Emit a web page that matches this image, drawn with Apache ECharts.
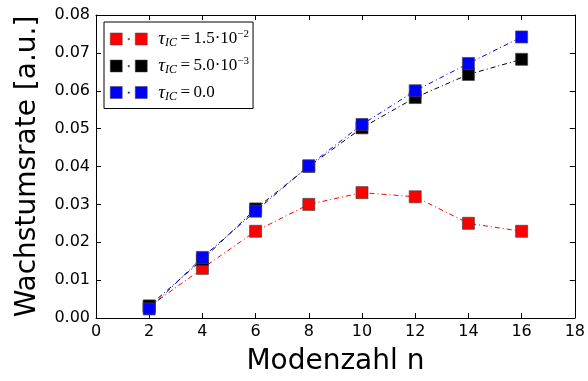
<!DOCTYPE html>
<html>
<head>
<meta charset="utf-8">
<script src="https://cdn.jsdelivr.net/npm/echarts@6/dist/echarts.min.js"></script>
<style>
  html, body { margin: 0; padding: 0; background: #fff; }
  #chart { width: 588px; height: 381px; }
</style>
</head>
<body>
<div id="chart"></div>
<script>
// Mode numbers on the x axis
const modes = [2, 4, 6, 8, 10, 12, 14, 16];

// Growth rate for each damping value tau_IC
const rateTau15e3 = [0.0030, 0.0131, 0.0229, 0.0300, 0.0331, 0.0320, 0.0250, 0.0229];
const rateTau5e3  = [0.0032, 0.0154, 0.0288, 0.0400, 0.0502, 0.0582, 0.0643, 0.0683];
const rateTau0    = [0.0024, 0.0160, 0.0282, 0.0402, 0.0511, 0.0600, 0.0672, 0.0742];

// Legend entries: [symbol, subscript, value, exponent]
const legendParts = [
  ['τ', 'IC', '\u2009=\u20091.5·10', '−2'],
  ['τ', 'IC', '\u2009=\u20095.0·10', '−3'],
  ['τ', 'IC', '\u2009=\u20090.0', '']
];
const seriesNames = ['tau15e3', 'tau5e3', 'tau0'];
const seriesColors = ['#ff0000', '#000000', '#0000ff'];
const seriesValues = [rateTau15e3, rateTau5e3, rateTau0];

const chart = echarts.init(document.getElementById('chart'), null, { renderer: 'canvas' });

const tickFont = { fontFamily: 'DejaVu Sans', fontSize: 16, color: '#000' };
const mathFont = 'Liberation Serif';

function pairs(values) {
  return modes.map((m, i) => [m, values[i]]);
}

// Two squares joined by a short dash-dot piece, as used in the legend keys
const legendIcon = 'path://M0,0h12v12h-12Z M17.8,5.4h1.4v1.4h-1.4Z M25,0h12v12h-12Z';

const series = seriesNames.map((name, i) => ({
  name: name,
  type: 'line',
  data: pairs(seriesValues[i]),
  symbol: 'rect',
  symbolSize: 12,
  showSymbol: true,
  animation: false,
  z: 2 + i,
  lineStyle: { color: seriesColors[i], width: 1, type: [5, 3, 1, 3] },
  itemStyle: { color: seriesColors[i], borderColor: '#444', borderWidth: 0.7 },
  emphasis: { disabled: true }
}));

const axisCommonX = {
  type: 'value', min: 0, max: 18, interval: 2,
  axisLine: { show: true, onZero: false, lineStyle: { color: '#000', width: 1 } },
  axisTick: { show: true, inside: true, length: 5, lineStyle: { color: '#000' } },
  splitLine: { show: false }
};
const axisCommonY = {
  type: 'value', min: 0, max: 0.08, interval: 0.01,
  axisLine: { show: true, onZero: false, lineStyle: { color: '#000', width: 1 } },
  axisTick: { show: true, inside: true, length: 5, lineStyle: { color: '#000' } },
  splitLine: { show: false }
};

chart.setOption({
  backgroundColor: '#fff',
  animation: false,
  grid: { left: 96, right: 12, top: 15, bottom: 62, containLabel: false },
  xAxis: [
    Object.assign({}, axisCommonX, {
      position: 'bottom',
      name: 'Modenzahl n',
      nameLocation: 'middle',
      nameGap: 30,
      nameTextStyle: { fontFamily: 'DejaVu Sans', fontSize: 28, color: '#000', verticalAlign: 'top' },
      axisLabel: Object.assign({ margin: 6 }, tickFont)
    }),
    Object.assign({}, axisCommonX, { position: 'top', axisLabel: { show: false } })
  ],
  yAxis: [
    Object.assign({}, axisCommonY, {
      position: 'left',
      name: 'Wachstumsrate [a.u.]',
      nameLocation: 'middle',
      nameGap: 54,
      nameTextStyle: { fontFamily: 'DejaVu Sans', fontSize: 28, color: '#000' },
      axisLabel: Object.assign({ margin: 6, formatter: v => v.toFixed(2) }, tickFont)
    }),
    Object.assign({}, axisCommonY, { position: 'right', axisLabel: { show: false } })
  ],
  legend: {
    orient: 'vertical',
    left: 104,
    top: 22,
    padding: [7, 4, 6, 6],
    itemGap: 7,
    itemWidth: 37,
    itemHeight: 12,
    borderColor: '#000',
    borderWidth: 1,
    borderRadius: 0,
    backgroundColor: '#fff',
    selectedMode: false,
    icon: legendIcon,
    itemStyle: { borderWidth: 0.5, borderColor: '#444' },
    data: seriesNames,
    formatter: function (name) {
      const p = legendParts[seriesNames.indexOf(name)];
      let s = '{sym|' + p[0] + '}{sub|' + p[1] + '}{val|' + p[2] + '}';
      if (p[3]) s += '{sup|' + p[3] + '}';
      return s;
    },
    textStyle: {
      fontFamily: mathFont,
      fontSize: 17,
      color: '#000',
      padding: [0, 0, 0, 6],
      rich: {
        sym: { fontFamily: mathFont, fontStyle: 'italic', fontSize: 19, lineHeight: 20, verticalAlign: 'middle' },
        sub: { fontFamily: mathFont, fontStyle: 'italic', fontSize: 12, lineHeight: 20, verticalAlign: 'bottom' },
        val: { fontFamily: mathFont, fontSize: 17, lineHeight: 20, verticalAlign: 'middle' },
        sup: { fontFamily: mathFont, fontSize: 11, lineHeight: 20, verticalAlign: 'top' }
      }
    }
  },
  series: series
});
</script>
</body>
</html>
